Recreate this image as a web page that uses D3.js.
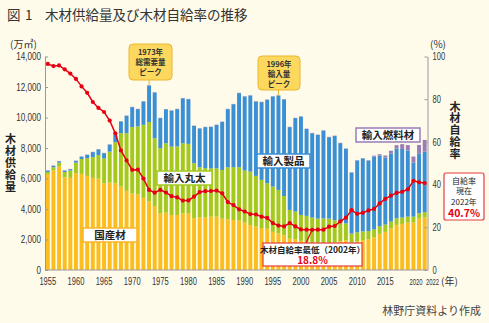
<!DOCTYPE html>
<html lang="ja">
<head>
<meta charset="utf-8">
<title>木材供給量及び木材自給率の推移</title>
<style>
  html, body { margin: 0; padding: 0; background: #fffbea; }
  svg { display: block; font-family: 'Noto Sans CJK JP', sans-serif; }
  .num { font-family: 'Liberation Sans', Roboto, sans-serif; font-size: 10.5px; fill: #333; }
  .axis path, .axis line { stroke: #999; }
  .axis text { font-family: 'Liberation Sans', Roboto, sans-serif; font-size: 10.5px; fill: #333; }
  .label-box text { font-size: 10.5px; font-weight: bold; fill: #222; }
  .peak text { font-size: 7.5px; font-weight: bold; fill: #333; }
  .vtitle { writing-mode: vertical-rl; font-size: 11px; font-weight: bold; fill: #222; }
</style>
</head>
<body>
<svg id="chart" width="489" height="323"></svg>
<script src="https://cdn.jsdelivr.net/npm/d3@7"></script>
<script>
// 年
var years = d3.range(1955, 2023);

// 国産材（万㎥）
var domestic = [6300, 6520, 6780, 6080, 6040, 6340, 6300, 6170, 6040, 5990,
  5690, 5730, 5690, 5470, 5190, 5010, 4960, 4730, 4500, 4200,
  3720, 3760, 3610, 3610, 3720, 3720, 3390, 3460, 3460, 3500,
  3500, 3370, 3330, 3280, 3240, 3110, 2950, 2850, 2750, 2700,
  2500, 2400, 2270, 2050, 2020, 1910, 1750, 1690, 1670, 1730,
  1770, 1810, 1900, 1950, 1790, 1890, 1960, 2010, 2150, 2370,
  2500, 2720, 2960, 3020, 3100, 3110, 3370, 3460];

// 輸入丸太
var importLogs = [130, 220, 260, 350, 480, 700, 980, 1160, 1360, 1550,
  1620, 2030, 2690, 3500, 3780, 4360, 4450, 4790, 5200, 4440,
  4270, 4550, 4480, 4490, 4590, 4550, 3610, 3280, 3220, 3170,
  3170, 3190, 3410, 3460, 3500, 3410, 3500, 3320, 3160, 2990,
  2970, 2850, 2580, 1890, 1810, 1700, 1800, 1750, 1700, 1650,
  1600, 1450, 1300, 1100, 600, 580, 570, 540, 520, 500,
  480, 450, 430, 420, 400, 390, 350, 330];

// 輸入製品
var importProducts = [90, 90, 90, 90, 90, 110, 150, 220, 330, 370,
  350, 460, 480, 770, 1140, 1310, 1140, 1530, 2400, 3000,
  1970, 2230, 2360, 2450, 2950, 2930, 2450, 2540, 2690, 2710,
  2840, 3150, 3810, 4130, 4860, 4860, 4990, 4880, 5100, 5470,
  5910, 6190, 6340, 5430, 6130, 6450, 5700, 5530, 5490, 5760,
  5340, 5530, 5120, 4900, 4000, 4710, 4790, 4610, 4770, 4630,
  4400, 4470, 4580, 4500, 4340, 3540, 3930, 3970];

// 輸入燃料材
var importFuel = [20, 20, 20, 20, 20, 20, 20, 20, 20, 20,
  20, 20, 20, 20, 20, 20, 20, 20, 20, 20,
  20, 20, 20, 20, 20, 20, 20, 20, 20, 20,
  20, 20, 20, 20, 20, 20, 20, 20, 20, 20,
  20, 20, 20, 20, 20, 20, 20, 20, 20, 20,
  20, 20, 20, 20, 20, 20, 20, 40, 60, 90,
  130, 180, 220, 310, 350, 400, 550, 770];

// 木材自給率（%）
var selfRate = [96.5, 95.5, 95.8, 94.0, 92.0, 89.5, 86.0, 83.0, 78.7, 75.9,
  74.0, 70.0, 64.0, 56.0, 51.3, 46.9, 47.0, 42.8, 37.5, 36.2,
  37.5, 36.3, 34.6, 34.0, 32.5, 32.6, 34.4, 36.5, 36.9, 37.0,
  37.2, 35.9, 31.8, 30.4, 28.4, 27.4, 26.2, 26.0, 25.0, 24.4,
  22.0, 20.8, 20.4, 22.0, 20.4, 19.0, 18.9, 18.8, 18.9, 18.9,
  20.3, 20.6, 22.8, 24.5, 28.0, 26.3, 26.8, 27.9, 28.6, 31.2,
  33.3, 34.8, 36.1, 36.6, 37.8, 41.8, 41.1, 40.7];

var leftTicks = [0, 2000, 4000, 6000, 8000, 10000, 12000, 14000];
var rightTicks = [0, 20, 40, 60, 80, 100];
var yearLabels = [1955, 1960, 1965, 1970, 1975, 1980, 1985, 1990, 1995, 2000, 2005, 2010, 2015];

var keys = ['domestic', 'logs', 'products', 'fuel'];
var colors = {domestic: '#fcbd1e', logs: '#a3c81e', products: '#3a8fd5', fuel: '#9a7cb6'};

var rows = years.map(function(yr, i) {
  return {year: yr, domestic: domestic[i], logs: importLogs[i], products: importProducts[i],
          fuel: importFuel[i], rate: selfRate[i]};
});

// 数字を細めに詰める
function narrow(sel, digitW) {
  sel.each(function() {
    var s = this.textContent;
    var w = 0;
    for (var k = 0; k < s.length; k++) w += (s[k] === ',' ? 2.3 : digitW);
    d3.select(this).attr('textLength', w).attr('lengthAdjust', 'spacingAndGlyphs');
  });
}

var svg = d3.select('#chart');
svg.append('rect').attr('width', 489).attr('height', 323).attr('fill', '#fffbea');

// スケール
var x = d3.scaleBand().domain(years).range([45, 427.5]).paddingInner(0.3).paddingOuter(0.15);
var y = d3.scaleLinear().domain([0, 14000]).range([270, 56.5]);
var yr = d3.scaleLinear().domain([0, 100]).range([270, 56.5]);
var bw = x.bandwidth();
function cx(year) { return x(year) + bw / 2; }

// タイトル
var title = svg.append('text').attr('y', 20).attr('fill', '#333').attr('font-size', 13.5);
title.append('tspan').attr('x', 7).text('図');
title.append('tspan').attr('x', 25).text('1');
title.append('tspan').attr('x', 45).text('木材供給量及び木材自給率の推移');

// 積み上げ棒
var stack = d3.stack().keys(keys)(rows);
svg.append('g').selectAll('g')
  .data(stack)
  .enter().append('g')
    .attr('fill', function(d) { return colors[d.key]; })
  .selectAll('rect')
  .data(function(d) { return d; })
  .enter().append('rect')
    .attr('x', function(d) { return x(d.data.year); })
    .attr('width', bw)
    .attr('y', function(d) { return y(d[1]); })
    .attr('height', function(d) { return y(d[0]) - y(d[1]); });

// 軸
var gl = svg.append('g').attr('class', 'axis')
  .attr('transform', 'translate(45,0)')
  .call(d3.axisLeft(y).tickValues(leftTicks).tickSize(-3).tickSizeOuter(0).tickPadding(4)
        .tickFormat(d3.format(',')));
narrow(gl.selectAll('text'), 4.5);

var gr = svg.append('g').attr('class', 'axis')
  .attr('transform', 'translate(427.5,0)')
  .call(d3.axisRight(yr).tickValues(rightTicks).tickSize(-3).tickSizeOuter(0).tickPadding(5));
narrow(gr.selectAll('text'), 4.2);

svg.append('line').attr('x1', 45).attr('x2', 427.5).attr('y1', 270).attr('y2', 270)
  .attr('stroke', '#999');

// 年ラベル
var yl = svg.append('g').selectAll('text')
  .data(yearLabels)
  .enter().append('text')
    .attr('class', 'num')
    .attr('x', function(d) { return cx(d); })
    .attr('y', 285)
    .attr('text-anchor', 'middle')
    .text(function(d) { return d; });
narrow(yl, 4.2);

var y20 = svg.append('text').attr('class', 'num').style('font-size', '9px')
  .attr('x', 416).attr('y', 285).attr('text-anchor', 'middle').text(2020);
var y22 = svg.append('text').attr('class', 'num').style('font-size', '9px')
  .attr('x', 432.5).attr('y', 285).attr('text-anchor', 'middle').text(2022);
narrow(y20, 3.3);
narrow(y22, 3.3);
svg.append('text').attr('fill', '#333').attr('font-size', 10)
  .attr('x', 441).attr('y', 285).text('(年)');

// 軸タイトル
svg.append('text').attr('fill', '#333').attr('font-size', 10)
  .attr('x', 10).attr('y', 48).text('(万㎥)');
svg.append('text').attr('fill', '#333').attr('font-size', 10)
  .attr('x', 430).attr('y', 48).text('(%)');

svg.append('text').attr('class', 'vtitle')
  .attr('x', 10.5).attr('y', 133).style('letter-spacing', '1px')
  .text('木材供給量');
svg.append('text').attr('class', 'vtitle')
  .attr('x', 455).attr('y', 101).style('letter-spacing', '0.8px')
  .text('木材自給率');

// 自給率の折れ線
var line = d3.line()
  .x(function(d) { return cx(d.year); })
  .y(function(d) { return yr(d.rate); });

svg.append('path').datum(rows)
  .attr('fill', 'none').attr('stroke', '#e60012').attr('stroke-width', 1.5)
  .attr('d', line);

svg.append('g').selectAll('circle')
  .data(rows)
  .enter().append('circle')
    .attr('cx', function(d) { return cx(d.year); })
    .attr('cy', function(d) { return yr(d.rate); })
    .attr('r', 2.1)
    .attr('fill', '#e60012');

// 系列ラベル
function labelBox(text, bx, by, w, h, color) {
  var g = svg.append('g').attr('class', 'label-box');
  g.append('rect').attr('x', bx).attr('y', by).attr('width', w).attr('height', h)
    .attr('fill', '#fff').attr('stroke', color).attr('stroke-width', 1.5);
  g.append('text').attr('x', bx + w / 2).attr('y', by + h / 2 + 4)
    .attr('text-anchor', 'middle').text(text);
}
labelBox('国産材', 83, 228, 54, 14, '#f7b529');
labelBox('輸入丸太', 157, 171, 55, 14, '#a3c81e');
labelBox('輸入製品', 257, 154, 53, 14, '#3a8fd5');
labelBox('輸入燃料材', 356, 128, 64, 14, '#9a7cb6');

// ピーク吹き出し
function peakBox(year, lines, bx, by, w, h) {
  var i = years.indexOf(year);
  var top = y(domestic[i] + importLogs[i] + importProducts[i] + importFuel[i]);
  var g = svg.append('g').attr('class', 'peak');
  g.append('line').attr('x1', cx(year)).attr('x2', cx(year))
    .attr('y1', by + h).attr('y2', top).attr('stroke', '#e8b12a');
  g.append('rect').attr('x', bx).attr('y', by).attr('width', w).attr('height', h)
    .attr('rx', 4).attr('fill', '#fdd85e').attr('stroke', '#eab82e');
  g.selectAll('text').data(lines).enter().append('text')
    .attr('x', bx + w / 2).attr('y', function(d, k) { return by + 11 + k * 10; })
    .attr('text-anchor', 'middle').text(function(d) { return d; });
}
peakBox(1973, ['1973年', '総需要量', 'ピーク'], 129, 44, 43, 36);
peakBox(1996, ['1996年', '輸入量', 'ピーク'], 258, 56, 42, 34);

// 最低自給率
var iLow = years.indexOf(2002);
svg.append('line').attr('x1', 306).attr('y1', 243)
  .attr('x2', cx(2002)).attr('y2', yr(selfRate[iLow]))
  .attr('stroke', '#e60012').attr('stroke-width', 1.2);
var low = svg.append('g');
low.append('rect').attr('x', 263).attr('y', 243).attr('width', 99).attr('height', 23)
  .attr('fill', '#fff').attr('stroke', '#e83c3c').attr('stroke-width', 1.2);
low.append('text').attr('x', 312.5).attr('y', 253).attr('text-anchor', 'middle')
  .attr('font-size', 8.5).attr('font-weight', 'bold').attr('fill', '#222')
  .text('木材自給率最低（2002年）');
low.append('text').attr('x', 312.5).attr('y', 263.5).attr('text-anchor', 'middle')
  .attr('font-size', 10).attr('font-weight', 'bold').attr('fill', '#e60012')
  .text(selfRate[iLow] + '%');

// 現在の自給率
var iNow = years.indexOf(2022);
var now = svg.append('g');
now.append('rect').attr('x', 444).attr('y', 173).attr('width', 40).attr('height', 47)
  .attr('rx', 2).attr('fill', '#fff').attr('stroke', '#e83c3c').attr('stroke-width', 1.2);
now.selectAll('text.l').data(['自給率', '現在', '2022年']).enter().append('text')
  .attr('x', 464).attr('y', function(d, k) { return 183.5 + k * 10.5; })
  .attr('text-anchor', 'middle').attr('font-size', 8).attr('fill', '#222')
  .text(function(d) { return d; });
now.append('text').attr('x', 464).attr('y', 216.5).attr('text-anchor', 'middle')
  .attr('font-size', 10.5).attr('font-weight', 'bold').attr('fill', '#e60012')
  .text(selfRate[iNow] + '%');

// 出典
svg.append('text').attr('x', 481).attr('y', 315).attr('text-anchor', 'end')
  .attr('font-size', 11).attr('fill', '#444').text('林野庁資料より作成');
</script>
</body>
</html>
